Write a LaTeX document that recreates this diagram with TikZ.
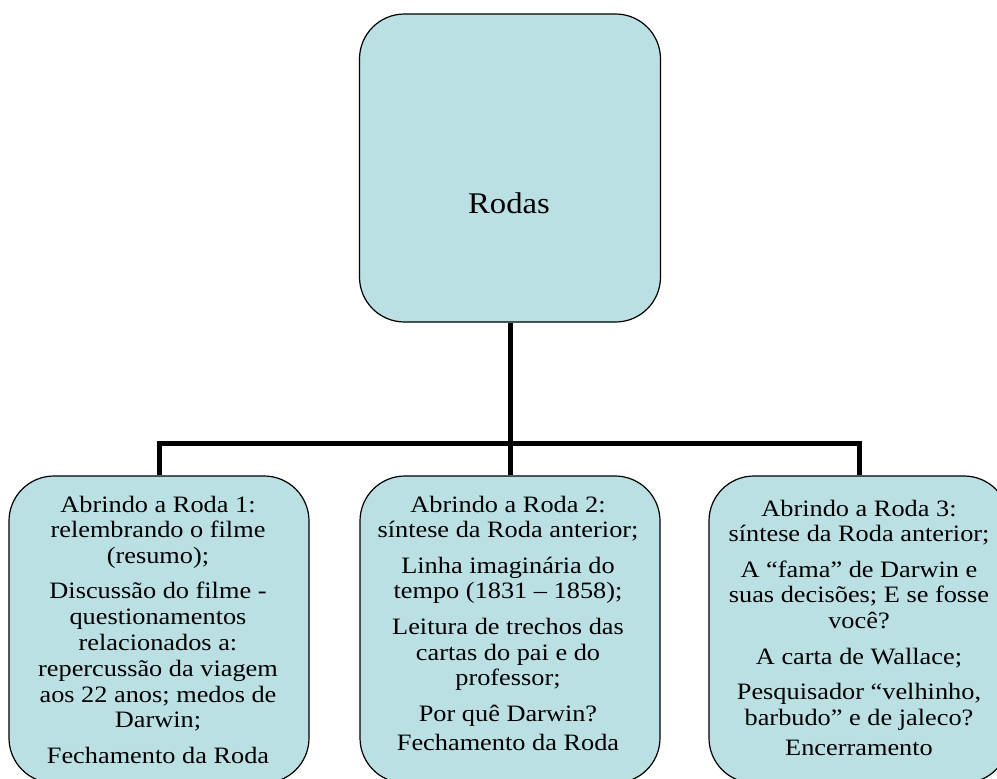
\documentclass[tikz,border=0pt]{standalone}
\usepackage{fontspec}
\newfontfamily\rodafont[FakeStretch=1.12]{Liberation Serif}
\newfontfamily\rodasfont[FakeStretch=1.09]{Liberation Serif}
\definecolor{boxfill}{RGB}{187,224,227}
\begin{document}
\begin{tikzpicture}[x=1pt,y=-1pt,
  roundbox/.style={draw=black, line width=1.2pt, fill=boxfill, rounded corners=45pt, inner sep=0pt},
  conn/.style={line width=5pt, draw=black, line join=miter},
  bodytext/.style={font=\rodafont\fontsize{23.5}{25.8}\selectfont, align=center, inner sep=0pt, anchor=north}]
\clip (0,0) rectangle (997,779);
\node[roundbox, minimum width=301pt, minimum height=308pt] (top) at (510,168) {};
\node[roundbox, minimum width=300pt, minimum height=307pt] (b1) at (159,629.5) {};
\node[roundbox, minimum width=300pt, minimum height=307pt] (b2) at (510,629.5) {};
\node[roundbox, minimum width=300pt, minimum height=307pt] (b3) at (859,629.5) {};
\coordinate (j) at (510,443);
\draw[conn] (b1.north) |- (j) -| (b3.north);
\draw[conn] (top.south) -- (b2.north);
\node[font=\rodasfont\fontsize{30}{34}\selectfont, anchor=base, inner sep=0pt] (toplabel) at (509,213) {Rodas};
\node[bodytext] (t1) at (158,495.5) {Abrindo a Roda 1:\\ relembrando o filme\\ (resumo);\\[9.5pt] Discussão do filme -\\ questionamentos\\ relacionados a:\\ repercussão da viagem\\ aos 22 anos; medos de\\ Darwin;\\[9.5pt] Fechamento da Roda};
\node[bodytext] (t2) at (508,495.5) {Abrindo a Roda 2:\\ síntese da Roda anterior;\\[9.5pt] Linha imaginária do\\ tempo (1831 – 1858);\\[9.5pt] Leitura de trechos das\\ cartas do pai e do\\ professor;\\[9.5pt] Por quê Darwin?\\[4pt] Fechamento da Roda};
\node[bodytext] (t3) at (859,499.5) {Abrindo a Roda 3:\\ síntese da Roda anterior;\\[9.5pt] A “fama” de Darwin e\\ suas decisões; E se fosse\\ você?\\[9.5pt] A carta de Wallace;\\[9.5pt] Pesquisador “velhinho,\\ barbudo” e de jaleco?\\[5pt] Encerramento};
\end{tikzpicture}
\end{document}
